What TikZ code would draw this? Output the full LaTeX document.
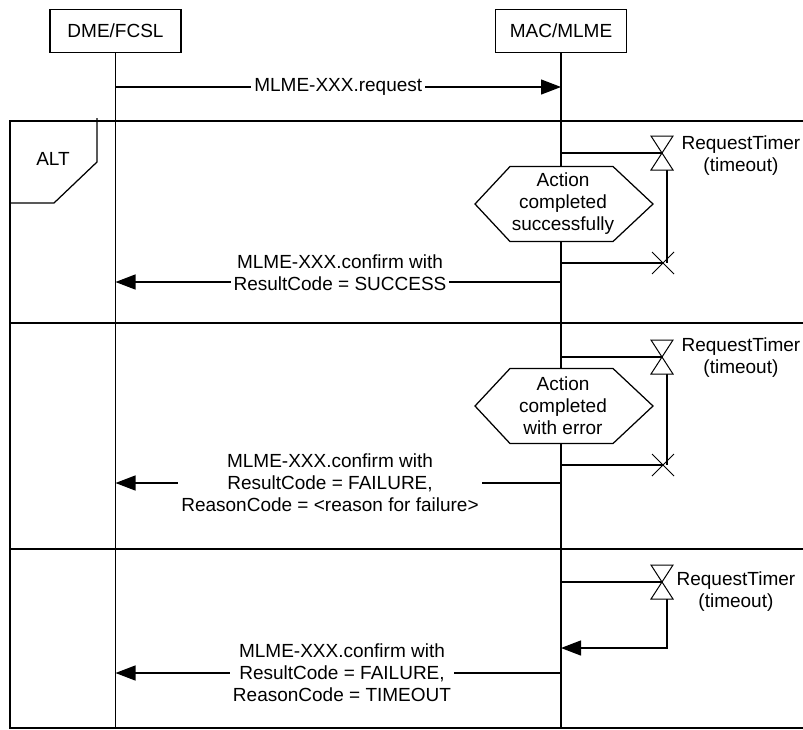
\documentclass[tikz,border=0pt]{standalone}
\usepackage{fontspec}
\setmainfont{Liberation Sans}
\usetikzlibrary{arrows.meta,calc}
\begin{document}
\begin{tikzpicture}[x=1pt,y=-1pt,
  line width=1.25pt,
  every node/.style={font=\fontsize{19}{22}\selectfont},
  actor/.style={draw, minimum width=131pt, minimum height=43pt, inner sep=0pt},
  msg/.style={-{Triangle[length=20pt,width=15pt]}},
  lbl/.style={fill=white, align=center, inner xsep=3pt, inner ysep=0pt},
  act/.style={align=center, inner sep=0pt},
  tmr/.style={align=center, anchor=west, inner sep=0pt},
  hexa/.style={fill=white, draw},
  timer/.pic={
    \draw[fill=white, line width=1pt] (0,0) -- (-11,-17) -- (11,-17) -- cycle;
    \draw[fill=white, line width=1pt] (0,0) -- (-11,17) -- (11,17) -- cycle;
  },
  expiry/.pic={
    \draw[line width=1pt] (-11,-11) -- (11,11) (-11,11) -- (11,-11);
  },
]
\useasboundingbox (0,0) rectangle (803,729);

% lifeline heads
\node[actor] (dme) at (115.5,31) {DME/FCSL};
\node[actor] (mac) at (561,31) {MAC/MLME};

% combined fragment frame with its three operands
\coordinate (bottom) at (0,728);
\draw (803,121) -- (10,121) -- (10,728) -- (803,728);
\draw (10,323) -- (803,323);
\draw (10,549) -- (803,549);
\draw (97,118) -- (97,162) -- (54,203) -- (10,203);
\node[inner sep=0pt] (alt) at (53,159) {ALT};

% lifelines
\draw (dme.south) -- (dme |- bottom);
\draw (mac.south) -- (mac |- bottom);

% request
\coordinate (yReq) at (0,87);
\draw[msg] (dme |- yReq) -- node[lbl] (reqLbl) {MLME-XXX.request} (mac |- yReq);

% ---- operand 1: success ----
\coordinate (t1) at (662,153);
\coordinate (v1a) at (667,170);
\coordinate (x1) at (663,263);
\draw (mac |- t1) -- (t1);
\draw (v1a) -- (v1a |- x1);
\draw (mac |- x1) -- (x1);
\pic at (t1) {timer};
\pic at (x1) {expiry};
\node[tmr] (tl1) at (681,156) {RequestTimer\\(timeout)};
\coordinate (h1) at (564,204);
\draw[hexa] ($(h1)+(-89,0)$) -- ++(35,-37.5) -- ++(103,0) -- ++(40,37.5)
  -- ++(-40,37.5) -- ++(-103,0) -- cycle;
\node[act] (act1) at (563,204) {Action\\completed\\successfully};
\coordinate (yC1) at (0,282);
\draw[msg] (mac |- yC1) -- (dme |- yC1);
\node[lbl] (c1Lbl) at (340,273) {MLME-XXX.confirm with\\ResultCode = SUCCESS};

% ---- operand 2: failure ----
\coordinate (t2) at (662,357);
\coordinate (v2a) at (667,374);
\coordinate (x2) at (663,465);
\draw (mac |- t2) -- (t2);
\draw (v2a) -- (v2a |- x2);
\draw (mac |- x2) -- (x2);
\pic at (t2) {timer};
\pic at (x2) {expiry};
\node[tmr] (tl2) at (681,358) {RequestTimer\\(timeout)};
\coordinate (h2) at (564,406);
\draw[hexa] ($(h2)+(-89,0)$) -- ++(35,-37.5) -- ++(103,0) -- ++(40,37.5)
  -- ++(-40,37.5) -- ++(-103,0) -- cycle;
\node[act] (act2) at (563,406) {Action\\completed\\with error};
\coordinate (yC2) at (0,483);
\draw[msg] (mac |- yC2) -- (dme |- yC2);
\node[lbl] (c2Lbl) at (330,483) {MLME-XXX.confirm with\\ResultCode = FAILURE,\\ReasonCode = <reason for failure>};

% ---- operand 3: timeout ----
\coordinate (t3) at (662,582);
\coordinate (v3a) at (667,599);
\coordinate (v3b) at (667,648);
\draw (mac |- t3) -- (t3);
\draw[msg] (v3a) -- (v3b) -- (mac |- v3b);
\pic at (t3) {timer};
\node[tmr] (tl3) at (676,592) {RequestTimer\\(timeout)};
\coordinate (yC3) at (0,673);
\draw[msg] (mac |- yC3) -- (dme |- yC3);
\node[lbl] (c3Lbl) at (342,673) {MLME-XXX.confirm with\\ResultCode = FAILURE,\\ReasonCode = TIMEOUT};
\end{tikzpicture}
\end{document}
